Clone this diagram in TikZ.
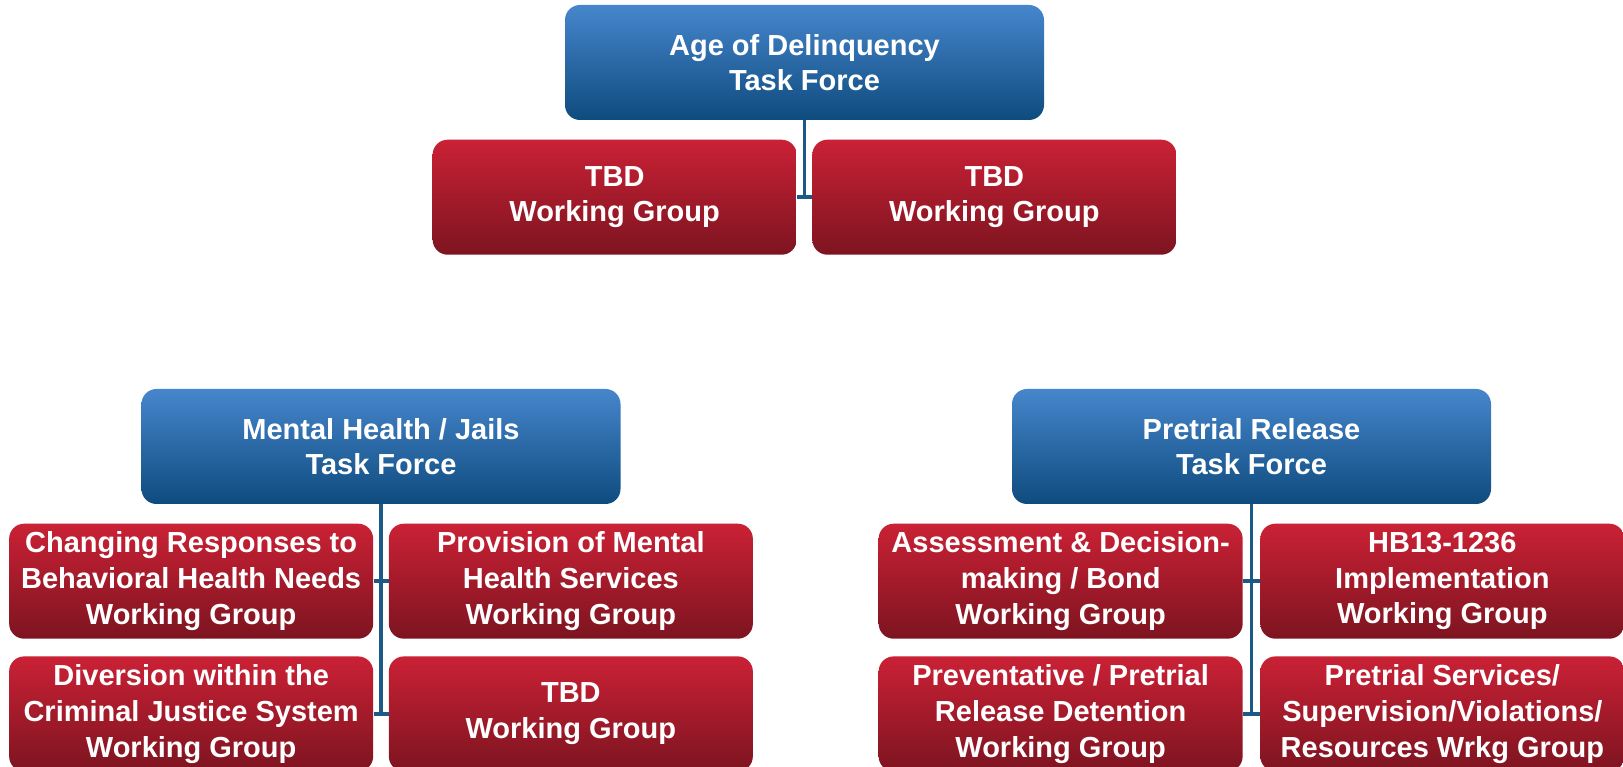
\documentclass[tikz,border=0pt]{standalone}
\usepackage{fontspec}
\setmainfont{Liberation Sans}
\usepackage{tikz}
\usetikzlibrary{positioning}

\definecolor{forceTop}{HTML}{4686CC}
\definecolor{forceBottom}{HTML}{0E4B7E}
\definecolor{groupTop}{HTML}{CA2135}
\definecolor{groupBottom}{HTML}{7D1420}
\definecolor{linkBlue}{HTML}{1B5A87}

\tikzset{
    box/.style={rounded corners=0.3cm, text=white, align=center, inner sep=0pt,
        minimum height=2.3cm, font=\fontsize{16.5}{20.3}\selectfont\bfseries,
        execute at begin node=\rule{0pt}{0pt}\vspace*{0.1cm}},
    taskforce/.style={box, top color=forceTop, bottom color=forceBottom, minimum width=9.58cm},
    workgroup/.style={box, top color=groupTop, bottom color=groupBottom, minimum width=7.28cm},
    link/.style={draw=linkBlue, line width=2.2pt}
}

\begin{document}
\begin{tikzpicture}
    \useasboundingbox (0,0) rectangle (32.46,-15.34);

    \node[taskforce] (aod) at (16.09,-1.25) {Age of Delinquency\\Task Force};
    \node[workgroup, below left=0.38cm and 0.15cm of aod.south] (aod-a) {TBD\\Working Group};
    \node[workgroup, below right=0.38cm and 0.15cm of aod.south] (aod-b) {TBD\\Working Group};

    \node[taskforce] (mhj) at (7.62,-8.93) {Mental Health / Jails\\Task Force};
    \node[workgroup, below left=0.38cm and 0.15cm of mhj.south] (mhj-a) {Changing Responses to\\Behavioral Health Needs\\Working Group};
    \node[workgroup, below right=0.38cm and 0.15cm of mhj.south] (mhj-b) {Provision of Mental\\Health Services\\Working Group};
    \node[workgroup, below=0.34cm of mhj-a] (mhj-c) {Diversion within the\\Criminal Justice System\\Working Group};
    \node[workgroup, below=0.34cm of mhj-b] (mhj-d) {TBD\\Working Group};

    \node[taskforce] (ptr) at (25.03,-8.93) {Pretrial Release\\Task Force};
    \node[workgroup, below left=0.38cm and 0.17cm of ptr.south] (ptr-a) {Assessment \& Decision-\\making / Bond\\Working Group};
    \node[workgroup, below right=0.38cm and 0.17cm of ptr.south] (ptr-b) {HB13-1236\\Implementation\\Working Group};
    \node[workgroup, below=0.34cm of ptr-a] (ptr-c) {Preventative / Pretrial\\Release Detention\\Working Group};
    \node[workgroup, below=0.34cm of ptr-b] (ptr-d) {Pretrial Services/\\Supervision/Violations/\\Resources Wrkg Group};

    \draw[link] (aod.south) |- (aod-a.east);
    \draw[link] (aod.south) |- (aod-b.west);
    \draw[link] (mhj.south) |- (mhj-a.east);
    \draw[link] (mhj.south) |- (mhj-b.west);
    \draw[link] (mhj.south) |- (mhj-c.east);
    \draw[link] (mhj.south) |- (mhj-d.west);
    \draw[link] (ptr.south) |- (ptr-a.east);
    \draw[link] (ptr.south) |- (ptr-b.west);
    \draw[link] (ptr.south) |- (ptr-c.east);
    \draw[link] (ptr.south) |- (ptr-d.west);
\end{tikzpicture}
\end{document}
